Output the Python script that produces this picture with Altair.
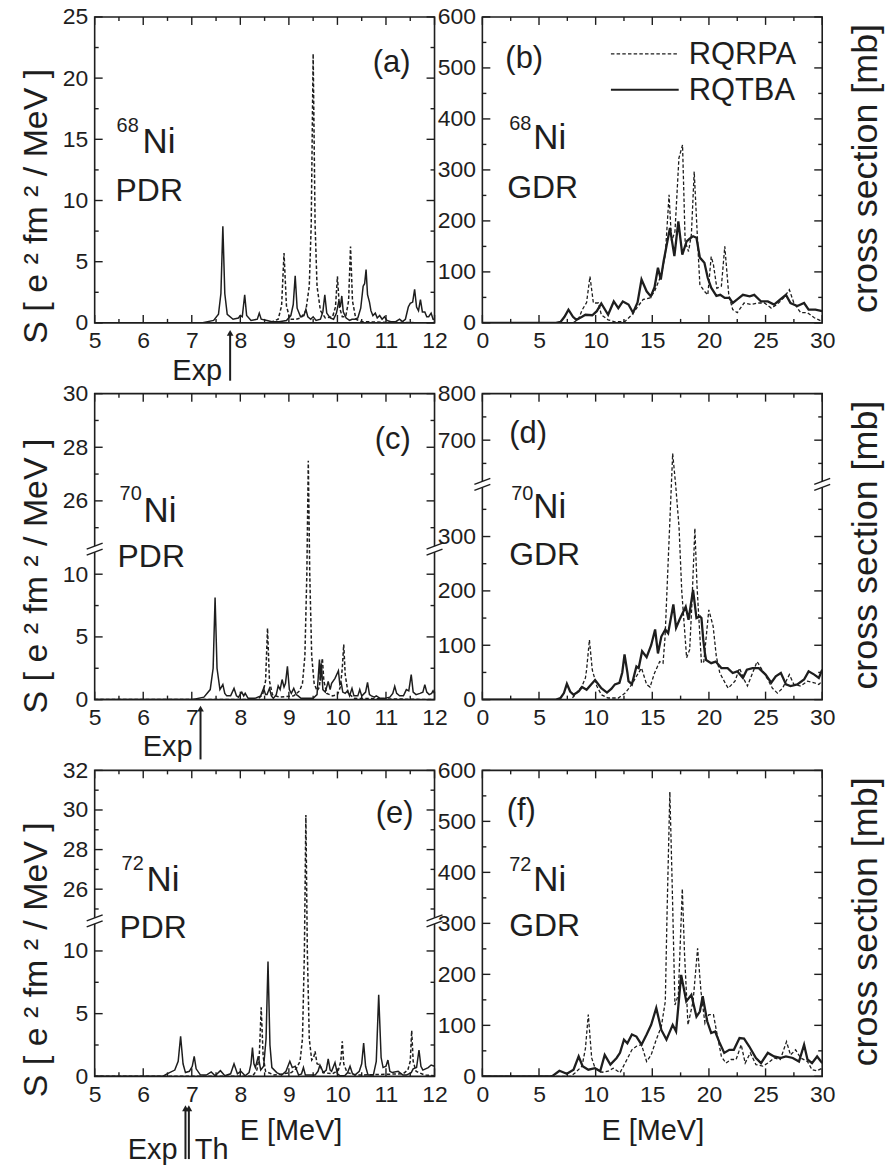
import altair as alt
import pandas as pd

FONT = "Liberation Sans"
INK = "#1e1e1e"
W, H = 341, 307

# ---------------- data (E [MeV], value) ----------------
A_RQTBA = [(5.0,0),(7.2,0),(7.45,0.2),(7.55,0.7),(7.60,2.4),(7.64,7.9),(7.68,2.4),(7.73,0.7),(7.85,0.3),(7.96,0.4),(8.00,0.6),(8.04,0.5),(8.09,2.3),(8.13,0.6),(8.22,0.2),(8.35,0.3),(8.39,0.8),(8.43,0.3),(8.55,0.2),(8.65,0.1),(8.80,0.1),(8.95,0.2),(9.04,0.6),(9.09,1.5),(9.13,3.85),(9.17,1.2),(9.24,0.5),(9.31,0.6),(9.35,1.1),(9.39,0.5),(9.45,0.3),(9.50,0.5),(9.56,0.2),(9.65,0.3),(9.70,0.9),(9.74,2.3),(9.78,0.8),(9.85,0.4),(9.92,0.3),(9.98,0.8),(10.03,1.8),(10.06,1.3),(10.09,2.2),(10.12,0.9),(10.18,0.4),(10.25,0.2),(10.30,0.3),(10.36,0.3),(10.42,0.4),(10.48,1.2),(10.53,3.0),(10.56,3.2),(10.59,4.35),(10.62,2.3),(10.66,1.7),(10.69,1.0),(10.73,0.6),(10.78,0.8),(10.82,0.4),(10.87,0.6),(10.92,0.3),(10.97,0.5),(11.02,0.2),(11.10,0.1),(11.20,0.1),(11.28,0.3),(11.34,0.1),(11.40,0.3),(11.46,1.3),(11.50,1.6),(11.55,1.7),(11.59,2.75),(11.63,1.3),(11.67,1.0),(11.71,1.9),(11.75,0.9),(11.80,0.9),(11.84,0.5),(11.88,0.5),(11.93,0.8),(11.97,0.3),(12.0,0.3)]
A_RQRPA = [(5.0,0),(8.60,0),(8.78,0.3),(8.85,1.4),(8.90,5.7),(8.95,1.4),(9.02,0.3),(9.15,0.3),(9.25,0.4),(9.35,1.0),(9.42,3.0),(9.46,8.0),(9.50,22.0),(9.54,8.0),(9.58,3.0),(9.65,1.0),(9.75,0.4),(9.90,0.5),(9.96,1.3),(10.00,3.8),(10.04,1.3),(10.10,0.5),(10.17,0.5),(10.23,1.8),(10.27,6.25),(10.31,1.8),(10.38,0.3),(10.50,0.1),(11.0,0.05),(12.0,0)]

B_RQTBA = [(0,0),(6.5,0),(6.9,2),(7.25,12),(7.6,26),(8.0,12),(8.3,6),(8.8,12),(9.1,16),(9.7,15),(10.1,23),(10.5,38),(11.1,16),(11.6,42),(12.0,29),(12.4,42),(12.9,36),(13.3,20),(13.7,40),(14.05,85),(14.5,62),(14.87,52),(15.2,70),(15.5,108),(15.75,85),(16.0,121),(16.25,150),(16.56,186),(16.95,131),(17.3,199),(17.65,134),(18.03,160),(18.3,165),(18.6,170),(18.9,167),(19.2,128),(19.6,118),(19.9,88),(20.2,69),(20.66,53),(21.0,55),(21.4,49),(21.8,49),(22.1,39),(22.5,46),(23.0,55),(23.6,52),(24.0,55),(24.6,42),(25.2,42),(25.75,36),(26.3,46),(26.8,55),(27.2,39),(27.8,33),(28.4,39),(28.8,26),(29.4,26),(30.0,23)]
B_RQRPA = [(0,0),(8.0,0),(8.5,8),(8.8,25),(9.2,40),(9.5,91),(9.8,39),(10.25,39),(10.5,16),(11.1,6),(11.7,2),(12.6,3),(13.2,16),(13.75,33),(14.2,46),(14.8,49),(15.2,62),(15.8,95),(16.15,134),(16.48,251),(16.7,160),(17.0,179),(17.35,323),(17.67,349),(17.9,160),(18.2,140),(18.45,173),(18.7,297),(19.0,160),(19.2,75),(19.6,62),(19.9,55),(20.2,130),(20.4,114),(20.7,68),(21.1,72),(21.4,150),(21.75,55),(22.1,26),(22.5,20),(23.1,39),(23.7,36),(24.3,39),(24.9,39),(25.5,29),(26.0,36),(26.6,49),(27.1,65),(27.5,39),(28.1,20),(28.7,20),(29.3,10),(30.0,3)]

C_RQTBA = [(5.0,0),(7.0,0),(7.25,0.2),(7.38,0.8),(7.44,2.5),(7.48,8.15),(7.52,2.5),(7.58,0.8),(7.64,1.2),(7.68,0.5),(7.72,0.3),(7.80,0.3),(7.87,0.9),(7.92,0.3),(7.96,0.2),(8.03,0.6),(8.07,0.3),(8.10,0.5),(8.16,0.1),(8.30,0.1),(8.42,0.3),(8.48,0.9),(8.52,0.4),(8.55,0.4),(8.60,0.9),(8.64,0.3),(8.68,0.1),(8.74,0.4),(8.78,1.1),(8.82,0.8),(8.86,1.6),(8.90,1.0),(8.93,1.3),(8.97,2.65),(9.01,0.8),(9.05,0.5),(9.10,0.9),(9.15,0.4),(9.19,0.3),(9.25,0.1),(9.35,0.1),(9.50,0.1),(9.58,0.4),(9.63,3.2),(9.65,1.5),(9.67,2.9),(9.70,0.8),(9.75,0.6),(9.81,1.45),(9.85,0.8),(9.88,1.3),(9.95,1.7),(10.02,2.3),(10.05,1.2),(10.08,1.3),(10.11,0.6),(10.16,0.5),(10.21,0.7),(10.25,0.3),(10.30,0.9),(10.34,0.3),(10.38,0.3),(10.42,0.3),(10.46,0.8),(10.50,0.3),(10.53,0.4),(10.58,0.6),(10.62,1.37),(10.66,0.4),(10.70,0.3),(10.76,0.2),(10.80,0.3),(10.88,0.1),(10.97,0.1),(11.08,0.2),(11.14,0.5),(11.18,1.06),(11.22,0.5),(11.28,0.3),(11.36,0.3),(11.42,0.8),(11.47,0.7),(11.52,2.0),(11.56,0.6),(11.62,0.4),(11.70,0.5),(11.76,0.6),(11.80,1.2),(11.84,0.6),(11.89,0.4),(11.94,0.5),(11.97,0.7),(12.0,0.5)]
C_RQRPA = [(5.0,0),(8.35,0),(8.46,0.4),(8.52,1.5),(8.56,5.7),(8.60,1.5),(8.66,0.4),(8.80,0.2),(9.10,0.3),(9.22,0.7),(9.28,1.3),(9.33,3.5),(9.37,10.0),(9.40,27.5),(9.43,10.0),(9.47,3.5),(9.52,1.3),(9.58,0.7),(9.63,1.0),(9.66,2.5),(9.69,3.3),(9.72,1.5),(9.78,0.5),(9.90,0.3),(10.00,0.4),(10.06,1.0),(10.10,2.5),(10.13,4.4),(10.16,2.0),(10.22,0.5),(10.35,0.1),(12.0,0)]

D_RQTBA = [(0,0),(6.5,0),(6.9,3),(7.2,12),(7.46,29),(7.75,15),(8.05,9),(8.5,15),(8.8,23),(9.2,18),(9.6,28),(9.95,36),(10.5,21),(11.0,13),(11.4,20),(11.7,28),(12.1,31),(12.35,50),(12.55,83),(12.8,50),(12.9,34),(13.2,28),(13.6,61),(13.8,58),(14.1,89),(14.5,78),(14.9,100),(15.25,129),(15.5,85),(15.8,116),(16.15,129),(16.4,122),(16.86,175),(17.1,132),(17.4,147),(17.95,171),(18.2,147),(18.6,202),(18.9,150),(19.2,153),(19.34,150),(19.5,110),(19.64,86),(19.75,73),(20.2,67),(20.6,70),(21.1,58),(21.65,58),(22.1,49),(22.5,52),(23.0,40),(23.35,55),(23.85,58),(24.4,58),(25.0,46),(25.5,31),(25.9,43),(26.35,49),(26.8,28),(27.2,25),(27.8,28),(28.4,37),(28.8,52),(29.3,46),(29.7,40),(30.0,55)]
D_RQRPA = [(0,0),(7.8,0),(8.2,9),(8.8,25),(9.1,40),(9.2,55),(9.45,110),(9.7,55),(10.1,25),(10.5,9),(11.1,3),(12.0,3),(12.6,12),(13.2,28),(13.6,43),(14.05,58),(14.5,28),(14.8,23),(15.2,49),(15.65,70),(15.95,67),(16.13,116),(16.42,263),(16.8,671),(17.06,400),(17.24,349),(17.36,318),(17.6,200),(18.03,77),(18.3,92),(18.5,178),(18.76,315),(18.95,208),(19.34,67),(19.55,70),(19.99,165),(20.37,135),(20.65,80),(20.96,49),(21.5,28),(21.7,21),(22.3,34),(22.7,58),(23.1,37),(23.4,25),(23.85,49),(24.25,70),(24.6,58),(25.2,37),(25.6,21),(26.05,12),(26.5,21),(27.1,46),(27.5,28),(28.1,25),(28.7,34),(29.3,31),(29.7,28),(30.0,34)]

E_RQTBA = [(5.0,0),(6.40,0),(6.49,0.2),(6.65,0.5),(6.72,1.2),(6.77,3.2),(6.82,1.0),(6.87,0.3),(6.95,0.4),(7.01,0.8),(7.05,1.6),(7.09,0.6),(7.18,0.1),(7.30,0.1),(7.40,0.35),(7.48,0.05),(7.59,0.45),(7.68,0.05),(7.80,0.2),(7.87,1.0),(7.94,0.2),(8.01,0.4),(8.10,0.05),(8.18,0.3),(8.22,1.0),(8.25,2.3),(8.28,1.0),(8.31,0.7),(8.37,1.6),(8.42,0.5),(8.48,0.8),(8.53,3.0),(8.57,9.15),(8.61,2.5),(8.65,0.7),(8.75,0.3),(8.85,0.1),(8.94,0.4),(9.02,1.2),(9.07,0.7),(9.13,0.8),(9.20,0.1),(9.26,0.2),(9.30,0.7),(9.34,0.1),(9.45,0.1),(9.54,0.1),(9.60,0.4),(9.64,0.9),(9.71,0.3),(9.77,0.5),(9.81,1.4),(9.85,0.5),(9.88,0.4),(9.95,1.1),(10.00,0.2),(10.05,0.05),(10.15,0.05),(10.21,0.3),(10.26,0.8),(10.31,0.2),(10.36,0.1),(10.45,0.4),(10.50,1.0),(10.54,2.65),(10.58,0.8),(10.63,0.1),(10.74,0.1),(10.80,1.2),(10.85,6.5),(10.90,1.5),(10.94,0.7),(11.00,0.8),(11.04,1.3),(11.08,0.4),(11.13,0.3),(11.25,0.4),(11.35,0.1),(11.42,0.1),(11.52,0.3),(11.56,0.6),(11.63,0.7),(11.68,2.1),(11.72,0.8),(11.76,0.5),(11.87,0.7),(11.93,0.9),(12.0,0.8)]
E_RQRPA = [(5.0,0),(8.25,0),(8.34,0.5),(8.39,1.6),(8.43,5.5),(8.47,1.6),(8.52,0.4),(8.70,0.1),(9.05,0.3),(9.15,0.6),(9.23,1.2),(9.28,3.0),(9.32,10.0),(9.35,29.75),(9.38,10.0),(9.42,3.0),(9.47,1.3),(9.51,1.5),(9.54,2.0),(9.58,1.0),(9.64,0.9),(9.70,0.3),(9.90,0.2),(10.02,0.5),(10.07,1.2),(10.10,2.8),(10.13,1.0),(10.20,0.3),(10.40,0.1),(11.35,0.2),(11.45,0.5),(11.50,1.2),(11.53,3.65),(11.56,1.2),(11.62,0.4),(11.80,0.1),(12.0,0.05)]

F_RQTBA = [(0,0),(6.0,0),(6.2,1),(6.8,11),(7.46,5),(8.05,13),(8.5,39),(8.85,20),(9.35,13),(9.95,16),(10.4,10),(10.8,42),(11.3,23),(11.85,36),(12.15,46),(12.5,72),(12.8,65),(13.2,82),(13.6,78),(14.05,62),(14.5,82),(14.9,101),(15.35,134),(15.8,91),(16.25,72),(16.8,101),(17.1,88),(17.55,199),(18.0,147),(18.45,160),(18.9,117),(19.2,127),(19.45,157),(19.85,108),(20.2,85),(20.55,88),(20.9,68),(21.35,46),(21.8,52),(22.2,52),(22.7,75),(23.1,74),(23.55,59),(24.15,36),(24.6,26),(25.2,46),(25.75,39),(26.3,36),(26.8,39),(27.4,36),(27.95,29),(28.4,62),(28.7,33),(29.1,26),(29.55,39),(30.0,26)]
F_RQRPA = [(0,0),(7.8,0),(8.2,7),(8.8,20),(9.1,55),(9.35,121),(9.65,36),(9.95,16),(10.55,8),(11.1,10),(11.55,16),(12.15,7),(12.6,26),(13.2,52),(13.6,59),(14.05,62),(14.5,29),(14.9,42),(15.35,72),(15.8,98),(16.15,147),(16.3,316),(16.55,558),(16.75,382),(17.0,140),(17.3,160),(17.65,368),(17.85,238),(18.15,101),(18.6,147),(19.0,251),(19.3,166),(19.65,104),(20.0,121),(20.4,121),(20.7,85),(21.1,39),(21.5,26),(21.95,33),(22.4,33),(22.85,62),(23.2,26),(23.65,46),(24.15,23),(24.75,20),(25.2,26),(25.75,36),(26.3,33),(26.85,68),(27.2,42),(27.65,52),(28.1,36),(28.7,29),(29.1,13),(29.55,11),(30.0,16)]

# tick values
PDR_X_MAJOR = [5, 6, 7, 8, 9, 10, 11, 12]
PDR_X_MINOR = [5.5, 6.5, 7.5, 8.5, 9.5, 10.5, 11.5]
GDR_X_MAJOR = [0, 5, 10, 15, 20, 25, 30]
GDR_X_MINOR = [2.5, 7.5, 12.5, 17.5, 22.5, 27.5]
A_Y_MAJOR = [0, 5, 10, 15, 20, 25]
A_Y_MINOR = [2.5, 7.5, 12.5, 17.5, 22.5]
C_Y_MAJOR = [0, 5, 10, 26, 28, 30]
C_Y_MINOR = [2.5, 7.5, 25, 27, 29]
E_Y_MAJOR = [0, 5, 10, 26, 28, 30, 32]
E_Y_MINOR = [2.5, 7.5, 25, 27, 29, 31]
G_Y_MAJOR = [0, 100, 200, 300, 400, 500, 600]
G_Y_MINOR = [50, 150, 250, 350, 450, 550]
D_Y_MAJOR = [0, 100, 200, 300, 700, 800]
D_Y_MINOR = [50, 150, 250, 350, 650, 750]

YTITLE_LEFT = "S [ e \u00b2 fm \u00b2 / MeV ]"
YTITLE_RIGHT = "cross section [mb]"


def frame(pairs):
    return pd.DataFrame(pairs, columns=["E", "S"])


def text_layer(s, x, y, size, align="left", baseline="alphabetic", angle=0):
    return alt.Chart(pd.DataFrame({"t": [s]})).mark_text(
        font=FONT, fontSize=size, color=INK, align=align, baseline=baseline, angle=angle
    ).encode(text="t:N", x=alt.value(x), y=alt.value(y))


def build(p):
    xs = alt.Scale(domain=p["xdom"], nice=False, zero=False)
    if "yrange" in p:
        ys = alt.Scale(domain=p["ydom"], range=p["yrange"], nice=False, zero=False)
    else:
        ys = alt.Scale(domain=p["ydom"], nice=False, zero=False)
    xax = alt.Axis(values=p["xmaj"], title=None, labelPadding=7, labelFlush=False, labelOverlap=False)
    yax = alt.Axis(values=p["ymaj"], title=None, labelPadding=7, labelFlush=False, labelOverlap=False)

    def X(field="E"):
        return alt.X(f"{field}:Q", scale=xs, axis=xax)

    def Y(field="S"):
        return alt.Y(f"{field}:Q", scale=ys, axis=yax)

    layers = []

    def ticks(vals, side, length):
        base = alt.Chart(pd.DataFrame({"v": vals})).mark_rule(color=INK, strokeWidth=1.4)
        if side == "left":
            return base.encode(y=Y("v"), x=alt.value(0), x2=alt.value(length))
        if side == "right":
            return base.encode(y=Y("v"), x=alt.value(W), x2=alt.value(W - length))
        if side == "bottom":
            return base.encode(x=X("v"), y=alt.value(H), y2=alt.value(H - length))
        return base.encode(x=X("v"), y=alt.value(0), y2=alt.value(length))

    layers.append(
        alt.Chart(frame(p["rqrpa"])).mark_line(
            color=INK, strokeWidth=p["dw"], strokeDash=[3.5, 2.2], clip=True
        ).encode(x=X(), y=Y())
    )
    layers.append(
        alt.Chart(frame(p["rqtba"])).mark_line(
            color=INK, strokeWidth=p["sw"], clip=True
        ).encode(x=X(), y=Y())
    )

    for side in ("left", "right"):
        layers.append(ticks(p["ymaj"], side, 8))
        layers.append(ticks(p["ymin"], side, 4))
    for side in ("bottom", "top"):
        layers.append(ticks(p["xmaj"], side, 8))
        layers.append(ticks(p["xmin"], side, 4))

    # axis-break marks
    if "yb" in p:
        yb = p["yb"]
        for x0 in (0, W):
            layers.append(alt.Chart(pd.DataFrame({"k": [0]})).mark_rule(color="white", strokeWidth=5).encode(
                x=alt.value(x0), y=alt.value(yb - 3), y2=alt.value(yb + 3)))
            layers.append(alt.Chart(pd.DataFrame({"k": [0]})).mark_rule(color=INK, strokeWidth=1.5).encode(
                x=alt.value(x0 - 8), x2=alt.value(x0 + 8), y=alt.value(yb), y2=alt.value(yb - 6)))
            layers.append(alt.Chart(pd.DataFrame({"k": [0]})).mark_rule(color=INK, strokeWidth=1.5).encode(
                x=alt.value(x0 - 8), x2=alt.value(x0 + 8), y=alt.value(yb + 6), y2=alt.value(yb)))

    # panel texts
    lab = p["label"]
    layers.append(text_layer(lab[0], lab[1], lab[2], 31, align="center", baseline="middle"))
    nuc = p["nuc"]
    layers.append(text_layer(nuc[0], nuc[1], nuc[2], 20))
    layers.append(text_layer("Ni", nuc[3], nuc[4], 35))
    mode = p["mode"]
    layers.append(text_layer(mode[0], mode[1], mode[2], 32))

    if p["side"] == "left":
        layers.append(text_layer(YTITLE_LEFT, -58, p["ytitle_y"], 34, align="center", baseline="middle", angle=270))
    else:
        layers.append(text_layer(YTITLE_RIGHT, W + 44, 152, 36, align="center", baseline="middle", angle=270))

    # arrows
    for (e, y_top, y_bot) in p.get("arrows", []):
        d = pd.DataFrame({"E": [e]})
        layers.append(alt.Chart(d).mark_rule(color=INK, strokeWidth=2).encode(
            x=X(), y=alt.value(y_top + 4), y2=alt.value(y_bot)))
        layers.append(alt.Chart(d).mark_point(shape="triangle-up", filled=True, size=45, color=INK, opacity=1).encode(
            x=X(), y=alt.value(y_top + 4)))
    for (s, e, dx, y, align) in p.get("arrow_text", []):
        d = pd.DataFrame({"E": [e], "t": [s]})
        layers.append(alt.Chart(d).mark_text(font=FONT, fontSize=29, color=INK, align=align,
                                             baseline="alphabetic", dx=dx).encode(
            x=X(), y=alt.value(y), text="t:N"))

    for (s, x, y) in p.get("extra_text", []):
        layers.append(text_layer(s, x, y, 29, align="center"))

    if p.get("legend"):
        layers.append(alt.Chart(pd.DataFrame({"k": [0]})).mark_rule(color=INK, strokeWidth=1.3, strokeDash=[3.5, 2.2]).encode(
            x=alt.value(129), x2=alt.value(197), y=alt.value(37)))
        layers.append(alt.Chart(pd.DataFrame({"k": [0]})).mark_rule(color=INK, strokeWidth=2).encode(
            x=alt.value(129), x2=alt.value(197), y=alt.value(73)))
        layers.append(text_layer("RQRPA", 207, 38, 31, baseline="middle"))
        layers.append(text_layer("RQTBA", 207, 74, 31, baseline="middle"))

    return alt.layer(*layers).properties(width=W, height=H)


PDR_COMMON = dict(xdom=[5, 12], xmaj=PDR_X_MAJOR, xmin=PDR_X_MINOR, sw=1.5, dw=1.5, side="left")
GDR_COMMON = dict(xdom=[0, 30], xmaj=GDR_X_MAJOR, xmin=GDR_X_MINOR, sw=2.3, dw=1.3, side="right")

panels = [
    dict(PDR_COMMON, rqtba=A_RQTBA, rqrpa=A_RQRPA, ydom=[0, 25], ymaj=A_Y_MAJOR, ymin=A_Y_MINOR,
         label=("(a)", 298, 46), nuc=("68", 22, 115, 48, 137), mode=("PDR", 21, 185), ytitle_y=190,
         arrows=[(7.79, H + 6, H + 58)], arrow_text=[("Exp", 7.79, -8, H + 57, "right")]),
    dict(GDR_COMMON, rqtba=B_RQTBA, rqrpa=B_RQRPA, ydom=[0, 600], ymaj=G_Y_MAJOR, ymin=G_Y_MINOR,
         label=("(b)", 42, 42), nuc=("68", 27, 113, 51, 133), mode=("GDR", 25, 182), legend=True),
    dict(PDR_COMMON, rqtba=C_RQTBA, rqrpa=C_RQRPA, ydom=[0, 12, 24.2, 30], yrange=[H, 156, 156, 0], yb=156,
         ymaj=C_Y_MAJOR, ymin=C_Y_MINOR,
         label=("(c)", 299, 47), nuc=("70", 25, 107, 49, 129), mode=("PDR", 23, 174), ytitle_y=183,
         arrows=[(7.18, H + 5, H + 60)], arrow_text=[("Exp", 7.18, -8, H + 57, "right")]),
    dict(GDR_COMMON, rqtba=D_RQTBA, rqrpa=D_RQRPA, ydom=[0, 396, 605, 800], yrange=[H, 91, 91, 0], yb=91,
         ymaj=D_Y_MAJOR, ymin=D_Y_MINOR,
         label=("(d)", 46, 41), nuc=("70", 29, 107, 51, 125), mode=("GDR", 27, 172)),
    dict(PDR_COMMON, rqtba=E_RQTBA, rqrpa=E_RQRPA, ydom=[0, 12.4, 24.4, 32], yrange=[H, 151, 151, 0], yb=151,
         ymaj=E_Y_MAJOR, ymin=E_Y_MINOR,
         label=("(e)", 301, 44), nuc=("72", 27, 100, 52, 121), mode=("PDR", 25, 168), ytitle_y=190,
         arrows=[(6.87, H + 28, H + 83), (6.94, H + 28, H + 83)],
         arrow_text=[("Exp", 6.87, -8, H + 83, "right"), ("Th", 6.94, 6, H + 83, "left")],
         extra_text=[("E [MeV]", 197, H + 64)]),
    dict(GDR_COMMON, rqtba=F_RQTBA, rqrpa=F_RQRPA, ydom=[0, 600], ymaj=G_Y_MAJOR, ymin=G_Y_MINOR,
         label=("(f)", 39, 41), nuc=("72", 27, 101, 51, 121), mode=("GDR", 27, 166),
         extra_text=[("E [MeV]", 171, H + 64)]),
]

charts = [build(p) for p in panels]

chart = alt.concat(
    *charts, columns=2, spacing={"row": 71, "column": 48}, bounds="flush"
).properties(
    padding={"left": 19, "top": 3, "right": 0, "bottom": 5}, background="white"
).configure_view(
    stroke=INK, strokeWidth=1.6
).configure_axis(
    labelFont=FONT, labelFontSize=23, labelColor=INK, grid=False, domain=False, ticks=False
)

chart.save("out.html", embed_options={"renderer": "svg", "actions": False})
